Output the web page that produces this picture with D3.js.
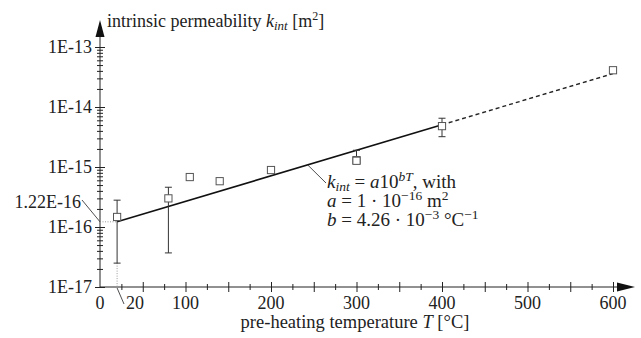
<!DOCTYPE html>
<html><head><meta charset="utf-8"><script src="https://cdn.jsdelivr.net/npm/d3@7"></script></head>
<body style="margin:0">
<script>
// measured points: pre-heating temperature [°C] and intrinsic permeability [m²]
const temps = [20, 80, 105, 140, 200, 300, 300, 400, 600];
const perms = [1.47e-16, 3.0e-16, 6.8e-16, 5.8e-16, 8.9e-16, 1.3e-15, 1.27e-15, 4.8e-15, 4.1e-14];

// error bars (min / max) where the figure shows them
const errTemps = [20, 80, 300, 400];
const errLow   = [2.5e-17, 3.7e-17, 1.2e-15, 3.2e-15];
const errHigh  = [2.8e-16, 4.6e-16, 1.9e-15, 6.5e-15];

// fitted line k = a * 10^(bT), solid over the measured range, dashed beyond
const fitSolid  = [[20, 1.22e-16], [400, 5.06e-15]];
const fitDashed = [[400, 5.06e-15], [600, 3.6e-14]];

const xTickLabels = [0, 100, 200, 300, 400, 500, 600];

const FONT = 'Liberation Serif';
const FS = 18;
const W = 641, H = 338;
const x = d3.scaleLinear().domain([0, 600]).range([100, 613]);
const y = d3.scaleLog().domain([1e-17, 1e-13]).range([287, 47]);

const svg = d3.select('body').append('svg')
  .attr('width', W).attr('height', H);

// every text gets the font directly
function txt(sel, fs = FS) {
  return sel.append('text').attr('font-family', FONT).attr('font-size', fs).attr('fill', '#222');
}
function span(t, s, o = {}) {
  const ts = t.append('tspan').text(s);
  if (o.it) ts.attr('font-style', 'italic');
  if (o.fs) ts.attr('font-size', o.fs);
  if (o.dy) ts.attr('dy', o.dy);
  return ts;
}

// ─── axes ────────────────────────────────────────────────────────────────
const ax = svg.append('g').attr('stroke', '#222').attr('stroke-width', 1);
ax.append('line').attr('x1', 100).attr('x2', 620).attr('y1', 287).attr('y2', 287);
ax.append('line').attr('x1', 100).attr('x2', 100).attr('y1', 287).attr('y2', 34);
svg.append('path').attr('d', 'M617,282.5L635,287L617,291.5Z').attr('fill', '#111');
svg.append('path').attr('d', 'M95.5,37L100,20L104.5,37Z').attr('fill', '#111');

// y axis: log ticks crossing the axis, decades longer
const isDecade = d => Math.abs(Math.log10(d) - Math.round(Math.log10(d))) < 1e-6;
const yAxis = svg.append('g')
  .attr('transform', 'translate(100,0)')
  .call(d3.axisLeft(y).tickSize(0).tickPadding(8)
    .tickFormat(d => isDecade(d) ? `1E${Math.round(Math.log10(d))}` : ''));
yAxis.attr('font-family', FONT).attr('font-size', FS);
yAxis.select('.domain').remove();
yAxis.selectAll('.tick line')
  .attr('stroke', '#222')
  .attr('x1', d => isDecade(d) ? -5 : -3)
  .attr('x2', d => isDecade(d) ? 5 : 3);
yAxis.selectAll('.tick text').attr('fill', '#222').attr('dy', '0.3em');

// x axis: ticks every 25, multiples of 50 longer
const xTicks = d3.range(25, 601, 25);
const xAxis = svg.append('g')
  .attr('transform', 'translate(0,287)')
  .call(d3.axisBottom(x).tickValues(xTicks).tickSize(0).tickFormat(''));
xAxis.select('.domain').remove();
xAxis.selectAll('.tick line')
  .attr('stroke', '#222')
  .attr('y1', d => d % 50 === 0 ? -5 : -3)
  .attr('y2', d => d % 50 === 0 ? 5 : 3);

svg.append('g').selectAll('text')
  .data(xTickLabels).join('text')
    .attr('font-family', FONT).attr('font-size', FS)
    .attr('x', d => x(d)).attr('y', 309)
    .attr('text-anchor', 'middle').attr('fill', '#222')
    .text(d => d);

// axis titles
const yt = txt(svg).attr('x', 107).attr('y', 27);
span(yt, 'intrinsic permeability ');
span(yt, 'k', { it: true });
span(yt, 'int', { it: true, fs: 13, dy: 3 });
span(yt, ' [m', { dy: -3 });
span(yt, '2', { fs: 12, dy: -7 });
span(yt, ']', { dy: 7 });

const xt = txt(svg, 18.5).attr('x', 355).attr('y', 328).attr('text-anchor', 'middle');
span(xt, 'pre-heating temperature ');
span(xt, 'T', { it: true });
span(xt, ' [°C]');

// ─── fit line ────────────────────────────────────────────────────────────
const line = d3.line().x(d => x(d[0])).y(d => y(d[1]));
svg.append('path').datum(fitSolid).attr('d', line)
  .attr('fill', 'none').attr('stroke', '#111').attr('stroke-width', 1.6);
svg.append('path').datum(fitDashed).attr('d', line)
  .attr('fill', 'none').attr('stroke', '#222').attr('stroke-width', 1.4)
  .attr('stroke-dasharray', '4,3');

// helper lines for the intercept at T = 20
svg.append('line')
  .attr('x1', x(0)).attr('x2', x(fitSolid[0][0]))
  .attr('y1', y(fitSolid[0][1])).attr('y2', y(fitSolid[0][1]))
  .attr('stroke', '#999').attr('stroke-dasharray', '1,1.5');
svg.append('line')
  .attr('x1', x(20)).attr('x2', x(20))
  .attr('y1', y(errLow[0])).attr('y2', y(1e-17))
  .attr('stroke', '#999').attr('stroke-dasharray', '1,1.5');

// ─── error bars ──────────────────────────────────────────────────────────
const eb = svg.append('g').attr('stroke', '#333').attr('stroke-width', 1);
errTemps.forEach((t, i) => {
  eb.append('line').attr('x1', x(t)).attr('x2', x(t)).attr('y1', y(errLow[i])).attr('y2', y(errHigh[i]));
  eb.append('line').attr('x1', x(t) - 3.5).attr('x2', x(t) + 3.5).attr('y1', y(errLow[i])).attr('y2', y(errLow[i]));
  eb.append('line').attr('x1', x(t) - 3.5).attr('x2', x(t) + 3.5).attr('y1', y(errHigh[i])).attr('y2', y(errHigh[i]));
});

// ─── measured points ─────────────────────────────────────────────────────
svg.append('g').selectAll('rect')
  .data(temps.map((t, i) => [t, perms[i]]))
  .join('rect')
    .attr('x', d => x(d[0]) - 3.6).attr('y', d => y(d[1]) - 3.6)
    .attr('width', 7.2).attr('height', 7.2)
    .attr('fill', '#fff').attr('stroke', '#555').attr('stroke-width', 1);

// ─── annotations ─────────────────────────────────────────────────────────
// 1.22E-16 intercept label
svg.append('line').attr('x1', 82).attr('y1', 200).attr('x2', 100).attr('y2', y(fitSolid[0][1]))
  .attr('stroke', '#222').attr('stroke-width', 0.8);
txt(svg).attr('x', 81).attr('y', 208).attr('text-anchor', 'end').text('1.22E-16');

// T = 20 label
svg.append('line').attr('x1', x(20)).attr('y1', 288).attr('x2', 124).attr('y2', 304)
  .attr('stroke', '#222').attr('stroke-width', 0.8);
txt(svg).attr('x', 126).attr('y', 309).text('20');

// fit formula
svg.append('line').attr('x1', x(243)).attr('y1', y(1.08e-15)).attr('x2', 326).attr('y2', 183)
  .attr('stroke', '#222').attr('stroke-width', 0.8);
const FF = 19;
const l1 = txt(svg, FF).attr('x', 327).attr('y', 188);
span(l1, 'k', { it: true });
span(l1, 'int', { it: true, fs: 13.5, dy: 3 });
span(l1, ' = ', { dy: -3 });
span(l1, 'a', { it: true });
span(l1, '10');
span(l1, 'bT', { it: true, fs: 13.5, dy: -7 });
span(l1, ', with', { dy: 7 });

const l2 = txt(svg, FF).attr('x', 327).attr('y', 207);
span(l2, 'a', { it: true });
span(l2, ' = 1 · 10');
span(l2, '−16', { fs: 13.5, dy: -7 });
span(l2, '  m', { dy: 7 });
span(l2, '2', { fs: 13.5, dy: -7 });

const l3 = txt(svg, FF).attr('x', 327).attr('y', 226);
span(l3, 'b', { it: true });
span(l3, ' = 4.26 · 10');
span(l3, '−3', { fs: 13.5, dy: -7 });
span(l3, '  °C', { dy: 7 });
span(l3, '−1', { fs: 13.5, dy: -7 });
</script>
</body>
</html>
